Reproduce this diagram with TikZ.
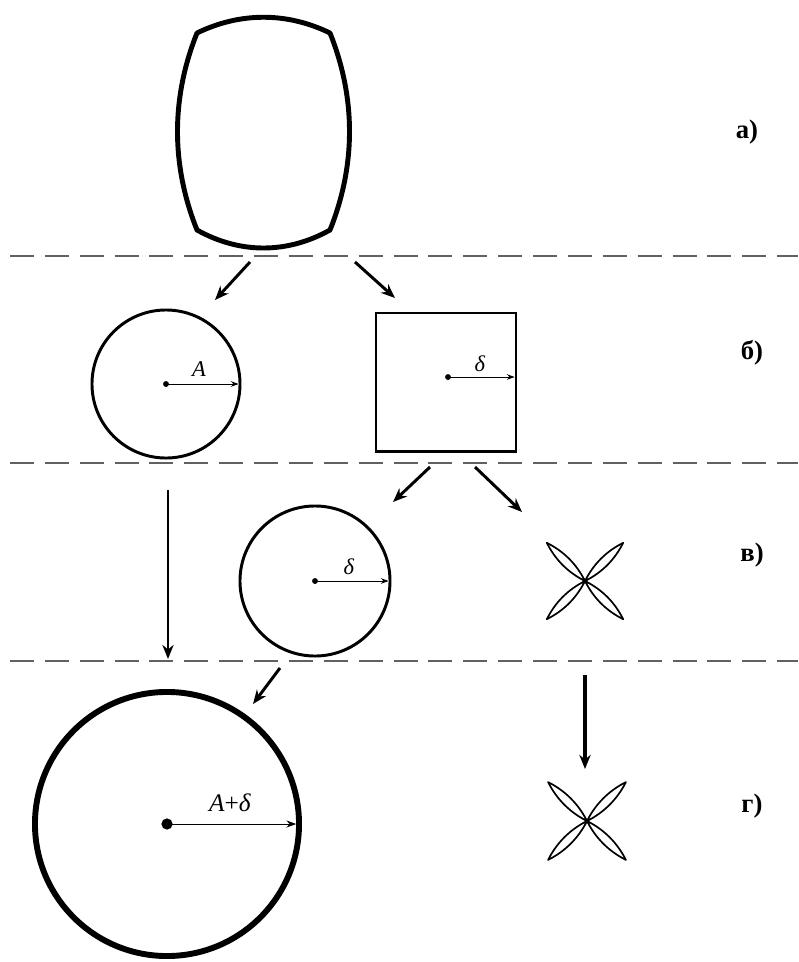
\documentclass[tikz,border=0pt]{standalone}
\usepackage{fontspec}
\setmainfont{Liberation Serif}
\usetikzlibrary{arrows.meta}

\begin{document}
\begin{tikzpicture}[
    x=0.025cm, y=-0.025cm,
    sep/.style={draw=black!62, line width=1.4pt, dash pattern=on 17pt off 7.8pt},
    arr/.style={-{Stealth[length=10pt, width=8pt]}, line width=2.1pt},
    rad/.style={-{Stealth[length=5.5pt, width=4pt]}, line width=0.7pt, shorten >=1pt},
    ring/.style={circle, draw, inner sep=0pt, outer sep=0pt, line width=2.1pt},
    dot/.style={circle, fill, inner sep=0pt, minimum size=4.2pt},
    tag/.style={font=\fontsize{19}{22}\selectfont\bfseries},
    mlbl/.style={font=\fontsize{16}{18}\selectfont},
    petal/.style={line width=1.2pt, line join=round}
]
\useasboundingbox (0,0) rectangle (798,962);

% separating lines
\foreach \row/\y in {1/256, 2/463, 3/661} {
  \coordinate (l\row) at (10,\y);
  \coordinate (r\row) at (798,\y);
  \draw[sep] (l\row) -- (r\row);
}

% row a: initial shape
\draw[line width=3.5pt, line join=round]
  (197,33) .. controls (240,12) and (287,12) .. (330,33)
           .. controls (356,98) and (356,165) .. (330,230)
           .. controls (287,254) and (240,254) .. (197,230)
           .. controls (171,165) and (171,98) .. (197,33) -- cycle;

% row b
\node[ring, minimum size=3.7cm] (cA) at (166,384) {};
\node[dot] (oA) at (166,384) {};
\draw[rad] (oA.center) -- (cA.east);
\node[mlbl] (lA) at (199,369) {\textit{A}};

\node[draw, line width=2.1pt, inner sep=0pt, outer sep=0pt,
      minimum width=3.5cm, minimum height=3.45cm] (sq) at (446,382) {};
\node[dot] (oS) at (448,377) {};
\draw[rad] (oS.center) -- (oS.center -| sq.east);
\node[mlbl] (lS) at (480,364) {\textit{δ}};

% row c
\node[ring, minimum size=3.75cm] (cD) at (315,581) {};
\node[dot] (oD) at (315,581) {};
\draw[rad] (oD.center) -- (cD.east);
\node[mlbl] (lD) at (349,567) {\textit{δ}};

\coordinate (f1) at (585,581);
\foreach \a in {45,135,225,315}
  \draw[petal, shift={(f1)}, rotate=\a]
    (0,0) .. controls (18,6) and (36,6) .. (54,0)
          .. controls (36,-6) and (18,-6) .. (0,0);

% row d
\node[ring, line width=4.2pt, minimum size=6.6cm] (cB) at (167,824) {};
\node[dot, minimum size=8pt] (oB) at (167,824) {};
\draw[rad, -{Stealth[length=7pt, width=5pt]}, shorten >=2pt] (oB.center) -- (cB.east);
\node[mlbl, font=\fontsize{18}{20}\selectfont] (lB) at (230,803) {\textit{A}+\textit{δ}};

\coordinate (f2) at (587,821);
\foreach \a in {45,135,225,315}
  \draw[petal, shift={(f2)}, rotate=\a]
    (0,0) .. controls (18,6) and (37,6) .. (55,0)
          .. controls (37,-6) and (18,-6) .. (0,0);

% arrows between rows
\coordinate (s1) at (250,262); \coordinate (e1) at (215,300);
\coordinate (s2) at (355,262); \coordinate (e2) at (395,298);
\coordinate (s3) at (430,467); \coordinate (e3) at (393,502);
\coordinate (s4) at (475,467); \coordinate (e4) at (522,512);
\coordinate (s5) at (168,490); \coordinate (e5) at (168,659);
\coordinate (s6) at (280,668); \coordinate (e6) at (253,704);
\coordinate (s7) at (585,675); \coordinate (e7) at (585,769);
\draw[arr] (s1) -- (e1);
\draw[arr] (s2) -- (e2);
\draw[arr] (s3) -- (e3);
\draw[arr] (s4) -- (e4);
\draw[arr, line width=1.5pt] (s5) -- (e5);
\draw[arr] (s6) -- (e6);
\draw[arr, line width=2.6pt] (s7) -- (e7);

% row tags
\node[tag] (ta) at (747,132) {а)};
\node[tag] (tb) at (752,353) {б)};
\node[tag] (tv) at (752,555) {в)};
\node[tag] (tg) at (752,806) {г)};
\end{tikzpicture}
\end{document}
